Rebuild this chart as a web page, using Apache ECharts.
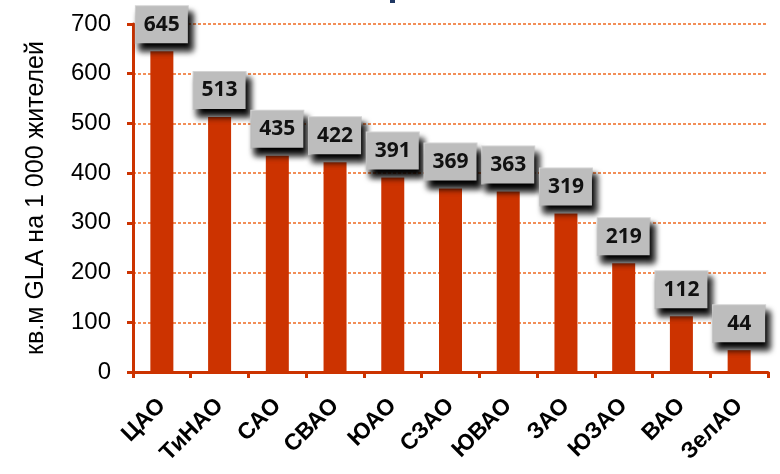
<!DOCTYPE html>
<html><head><meta charset="utf-8">
<script src="https://cdn.jsdelivr.net/npm/echarts@6/dist/echarts.min.js"></script>
<style>html,body{margin:0;padding:0;background:#fff}#c{width:780px;height:474px}</style>
</head><body><div id="c"></div>
<script>
const categories = ['ЦАО','ТиНАО','САО','СВАО','ЮАО','СЗАО','ЮВАО','ЗАО','ЮЗАО','ВАО','ЗелАО'];
const values = [645,513,435,422,391,369,363,319,219,112,44];
const yAxisName = 'кв.м GLA на 1 000 жителей';

const chart = echarts.init(document.getElementById('c'));
chart.setOption({
  animation: false,
  graphic: [{type:'rect', shape:{x:390,y:0,width:5,height:3}, style:{fill:'#1F3864'}}],
  grid: {left:133, right:12, top:24, bottom:102},
  xAxis: {
    type:'category', data: categories,
    axisLine:{lineStyle:{color:'#CC3300', width:3}},
    axisTick:{show:true, length:6, lineStyle:{color:'#CC3300', width:3}},
    axisLabel:{rotate:45, margin:30, color:'#000', fontFamily:'Liberation Sans, Arial', fontWeight:'bold', fontSize:23, interval:0}
  },
  yAxis: {
    type:'value', min:0, max:700, interval:100,
    name: yAxisName, nameLocation:'middle', nameGap:84, nameRotate:90,
    nameTextStyle:{color:'#000', fontFamily:'Liberation Sans, Arial', fontSize:25},
    axisLine:{show:true, lineStyle:{color:'#CC3300', width:3}},
    axisTick:{show:true, length:6, lineStyle:{color:'#CC3300', width:3}},
    axisLabel:{margin:22, color:'#000', fontFamily:'Liberation Sans, Arial', fontSize:24},
    splitLine:{show:true, lineStyle:{color:'#EE6A22', width:1.5, type:[3,2]}}
  },
  series: [{
    type:'bar', data: values, barWidth:23,
    itemStyle:{color:'#CC3300'},
    label:{
      show:true, position:'top', distance:8,
      color:'#111', fontFamily:'Open Sans, Liberation Sans', fontWeight:'bold', fontSize:21,
      lineHeight:23,
      backgroundColor:'#BDBDBD', borderColor:'#D4D4D4', borderWidth:1,
      width:40, align:'center', padding:[7,6,7,6],
      shadowColor:'rgba(0,0,0,1)', shadowBlur:6, shadowOffsetX:4, shadowOffsetY:7
    }
  }]
});
</script></body></html>
